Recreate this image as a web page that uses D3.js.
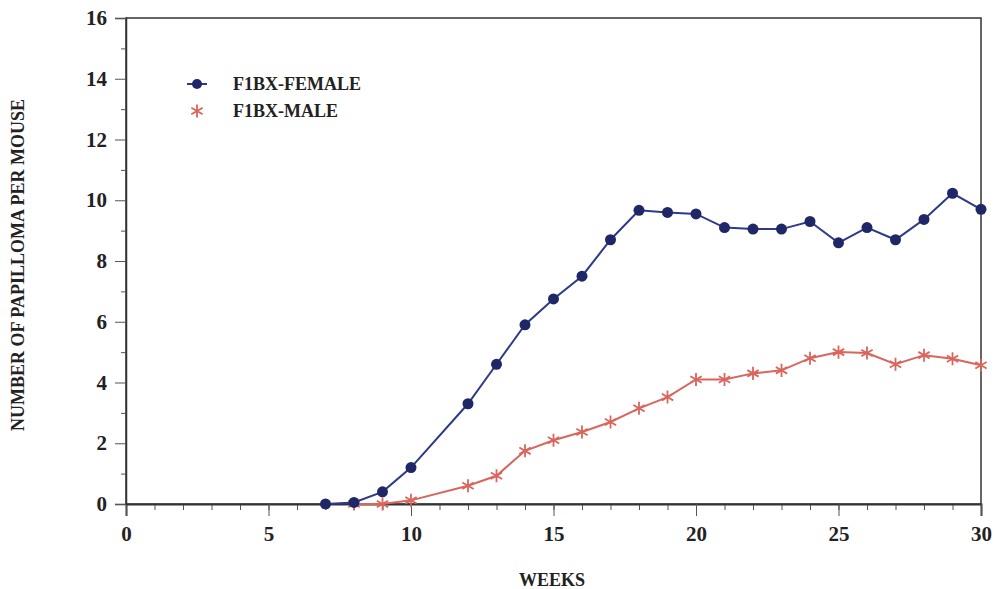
<!DOCTYPE html>
<html>
<head>
<meta charset="utf-8">
<script src="https://cdn.jsdelivr.net/npm/d3@7"></script>
<style>
  body { margin: 0; background: #fff; }
  text { font-family: "Liberation Serif", "DejaVu Serif", serif; font-weight: bold; fill: #222; }
</style>
</head>
<body>
<script>
// chart data
var femaleWeeks = [7, 8, 9, 10, 12, 13, 14, 15, 16, 17, 18, 19, 20, 21, 22, 23, 24, 25, 26, 27, 28, 29, 30];
var femaleValues = [0, 0.05, 0.4, 1.2, 3.3, 4.6, 5.9, 6.75, 7.5, 8.7, 9.67, 9.6, 9.55, 9.1, 9.05, 9.05, 9.3, 8.6, 9.1, 8.7, 9.37, 10.23, 9.7];
var maleWeeks = [8, 9, 10, 12, 13, 14, 15, 16, 17, 18, 19, 20, 21, 22, 23, 24, 25, 26, 27, 28, 29, 30];
var maleValues = [0, 0, 0.12, 0.6, 0.93, 1.75, 2.1, 2.37, 2.7, 3.15, 3.52, 4.1, 4.1, 4.3, 4.4, 4.8, 5.0, 4.97, 4.6, 4.9, 4.78, 4.57];
var xTicks = [0, 5, 10, 15, 20, 25, 30];
var yTicks = [0, 2, 4, 6, 8, 10, 12, 14, 16];
var seriesNames = ["F1BX-FEMALE", "F1BX-MALE"];

var width = 994, height = 589;
var plotLeft = 126, plotRight = 981, plotTop = 18, plotBottom = 504;

var svg = d3.select("body").append("svg")
  .attr("width", width)
  .attr("height", height);

var x = d3.scaleLinear().domain([0, 30]).range([plotLeft, plotRight]);
var y = d3.scaleLinear().domain([0, 16]).range([plotBottom, plotTop]);

//frame
svg.append("rect")
  .attr("x", plotLeft).attr("y", plotTop)
  .attr("width", plotRight - plotLeft).attr("height", plotBottom - plotTop)
  .attr("fill", "none").attr("stroke", "#333").attr("stroke-width", 1.5);

//x axis minor + major ticks
svg.append("g")
  .attr("transform", "translate(0," + plotBottom + ")")
  .call(d3.axisBottom(x).tickValues(d3.range(0, 31)).tickSize(6).tickFormat(""))
  .call(g => g.select(".domain").remove())
  .call(g => g.selectAll("line").attr("stroke", "#555"));
svg.append("g")
  .attr("transform", "translate(0," + plotBottom + ")")
  .call(d3.axisBottom(x).tickValues(xTicks).tickSize(12).tickPadding(10))
  .call(g => g.select(".domain").attr("stroke", "#333").attr("stroke-width", 2))
  .call(g => g.selectAll("line").attr("stroke", "#555"))
  .call(g => g.selectAll("text").style("font-size", "21px").attr("fill", "#222"));

//y axis minor + major ticks
svg.append("g")
  .attr("transform", "translate(" + plotLeft + ",0)")
  .call(d3.axisLeft(y).tickValues(d3.range(1, 16, 2)).tickSize(5).tickFormat(""))
  .call(g => g.select(".domain").remove())
  .call(g => g.selectAll("line").attr("stroke", "#555"));
svg.append("g")
  .attr("transform", "translate(" + plotLeft + ",0)")
  .call(d3.axisLeft(y).tickValues(yTicks).tickSize(11).tickPadding(8))
  .call(g => g.select(".domain").attr("stroke", "#333").attr("stroke-width", 1.5))
  .call(g => g.selectAll("line").attr("stroke", "#555"))
  .call(g => g.selectAll("text").style("font-size", "21px").attr("fill", "#222"));

//axis titles
svg.append("text")
  .attr("x", 552)
  .attr("y", 586)
  .attr("text-anchor", "middle")
  .style("font-size", "18px")
  .text("WEEKS");

svg.append("text")
  .attr("transform", "translate(24,265) rotate(-90)")
  .attr("text-anchor", "middle")
  .style("font-size", "18px")
  .text("NUMBER OF PAPILLOMA PER MOUSE");

var line = d3.line().x(d => x(d[0])).y(d => y(d[1]));
var female = femaleWeeks.map((w, i) => [w, femaleValues[i]]);
var male = maleWeeks.map((w, i) => [w, maleValues[i]]);

var blue = "#2e3a86", blueDark = "#1f2767", red = "#d9655c";

//male series
svg.append("path").datum(male)
  .attr("d", line).attr("fill", "none")
  .attr("stroke", red).attr("stroke-width", 2);
var star = d3.symbol().type(d3.symbolAsterisk).size(120);
function drawStar(sel) {
  sel.attr("d", star).attr("fill", "none").attr("stroke", red).attr("stroke-width", 1.8);
}
svg.append("g").selectAll("path")
  .data(male).join("path")
  .attr("transform", d => "translate(" + x(d[0]) + "," + y(d[1]) + ")")
  .call(drawStar);

//female series
svg.append("path").datum(female)
  .attr("d", line).attr("fill", "none")
  .attr("stroke", blue).attr("stroke-width", 2);
svg.append("g").selectAll("circle")
  .data(female).join("circle")
  .attr("cx", d => x(d[0])).attr("cy", d => y(d[1]))
  .attr("r", 5.5).attr("fill", blueDark);

//legend
var legend = svg.append("g");
legend.append("line")
  .attr("x1", 187).attr("x2", 207).attr("y1", 84).attr("y2", 84)
  .attr("stroke", blue).attr("stroke-width", 2);
legend.append("circle")
  .attr("cx", 197).attr("cy", 84).attr("r", 5).attr("fill", blueDark);
legend.append("text")
  .attr("x", 233).attr("y", 90)
  .style("font-size", "18px")
  .text(seriesNames[0]);
legend.append("path")
  .attr("transform", "translate(197,111)")
  .call(drawStar);
legend.append("text")
  .attr("x", 233).attr("y", 117)
  .style("font-size", "18px")
  .text(seriesNames[1]);
</script>
</body>
</html>
